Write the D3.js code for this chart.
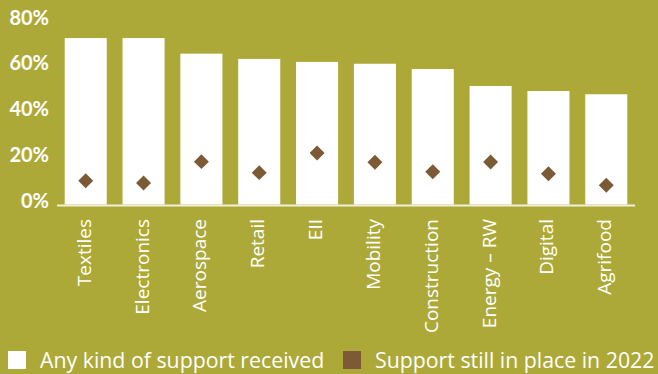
<!DOCTYPE html>
<html>
<head>
<meta charset="utf-8">
<script src="https://cdn.jsdelivr.net/npm/d3@7"></script>
<style>
  html, body { margin: 0; padding: 0; background: #ada938; }
  svg { display: block; }
  text { font-family: "Open Sans", Lato, sans-serif; fill: #ffffff; }
  .ylab { font-family: Lato, "Open Sans", sans-serif; font-weight: 700; }
</style>
</head>
<body>
<svg id="chart" width="658" height="374"></svg>
<script>
// Sectors, share of firms that received any kind of support, and share still supported in 2022 (%)
const sectors = ["Textiles", "Electronics", "Aerospace", "Retail", "EII", "Mobility",
                 "Construction", "Energy – RW", "Digital", "Agrifood"];
const anySupport = [72.6, 72.6, 65.8, 63.5, 62.2, 61.4, 59.1, 51.7, 49.5, 48.1];
const stillIn2022 = [10.4, 9.4, 18.7, 13.9, 22.5, 18.4, 14.3, 18.5, 13.4, 8.4];
const yTicks = [0, 20, 40, 60, 80];
const legendLabels = ["Any kind of support received", "Support still in place in 2022"];

const BAR = "#ffffff", MARK = "#7c5a35", AXIS = "#f1f0dc";

const svg = d3.select("#chart");

const x = d3.scaleBand()
  .domain(sectors)
  .range([57, 635])
  .paddingInner(0.273)
  .paddingOuter(0.133);

const y = d3.scaleLinear()
  .domain([0, 80])
  .range([204.5, 21.1]);

// y labels (no tick lines, no domain line)
svg.append("g")
  .selectAll("text")
  .data(yTicks)
  .join("text")
  .attr("class", "ylab")
  .attr("x", 49)
  .attr("y", d => y(d) + 3.4)
  .attr("text-anchor", "end")
  .style("font-size", "20px")
  .text(d => d + "%");

// bars
svg.append("g")
  .selectAll("rect")
  .data(sectors)
  .join("rect")
  .attr("x", d => x(d))
  .attr("width", x.bandwidth())
  .attr("y", (d, i) => y(anySupport[i]))
  .attr("height", (d, i) => y(0) - y(anySupport[i]))
  .attr("fill", BAR);

// baseline
svg.append("line")
  .attr("x1", 57).attr("x2", 635)
  .attr("y1", y(0) + 1).attr("y2", y(0) + 1)
  .attr("stroke", AXIS)
  .attr("stroke-width", 2);

// diamond markers
const diamond = d3.symbol().type(d3.symbolSquare).size(112);
svg.append("g")
  .selectAll("path")
  .data(sectors)
  .join("path")
  .attr("d", diamond)
  .attr("transform", (d, i) =>
    `translate(${x(d) + x.bandwidth() / 2},${y(stillIn2022[i])}) rotate(45)`)
  .attr("fill", MARK);

// rotated category labels
svg.append("g")
  .selectAll("text")
  .data(sectors)
  .join("text")
  .attr("transform", d => `translate(${x(d) + x.bandwidth() / 2 + 5},219) rotate(-90)`)
  .attr("text-anchor", "end")
  .style("font-size", "19px")
  .text(d => d);

// legend
const legendItems = [
  { label: legendLabels[0], color: BAR, sx: 8, tx: 40 },
  { label: legendLabels[1], color: MARK, sx: 343, tx: 375 }
];
const lg = svg.append("g");
lg.selectAll("rect")
  .data(legendItems)
  .join("rect")
  .attr("x", d => d.sx)
  .attr("y", 351)
  .attr("width", 18)
  .attr("height", 18)
  .attr("fill", d => d.color);
lg.selectAll("text")
  .data(legendItems)
  .join("text")
  .attr("x", d => d.tx)
  .attr("y", 367.5)
  .style("font-size", "21.3px")
  .text(d => d.label);
</script>
</body>
</html>
